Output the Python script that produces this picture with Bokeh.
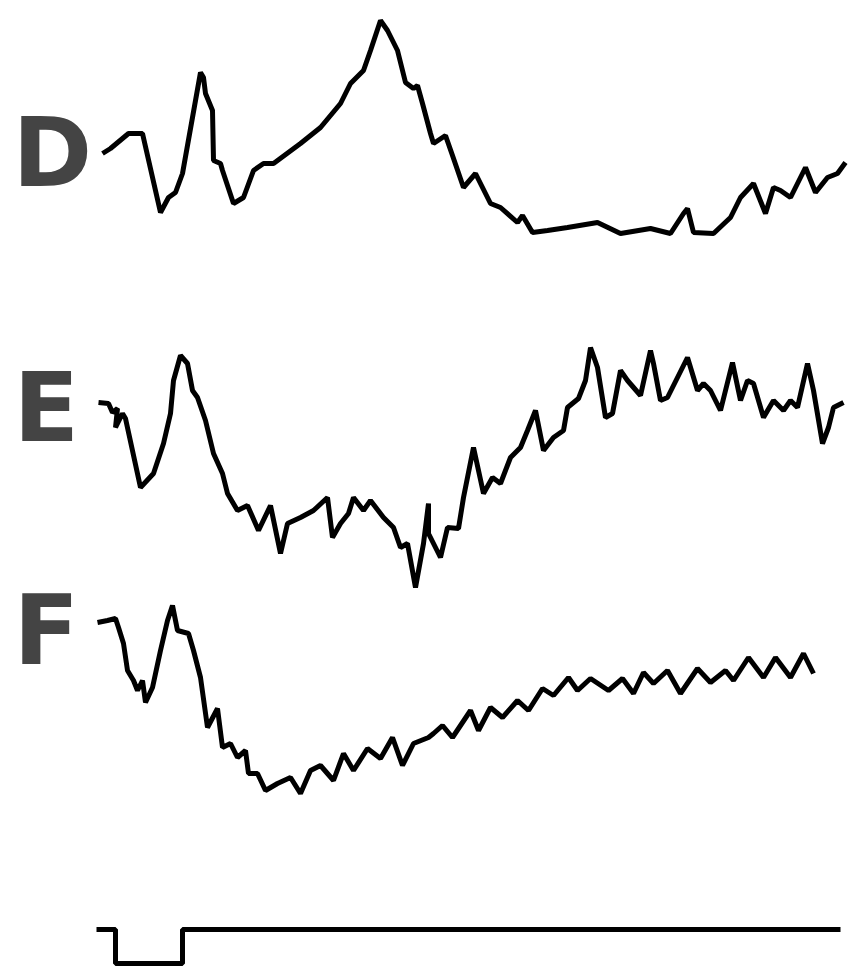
from bokeh.plotting import figure
from bokeh.models import Range1d, Label
from bokeh.embed import file_html
from bokeh.resources import INLINE

# Trace D (time position, reading downward from top of figure)
D_t = [102, 110, 128, 142, 160, 168, 175, 182, 200, 203, 205, 212, 213, 220, 222, 233, 243, 253,
       263, 273, 300, 320, 340, 350, 363, 370, 380, 387, 397, 405, 413, 417, 422, 430, 433, 445,
       452, 463, 475, 490, 500, 517, 522, 532, 547, 567, 597, 620, 650, 670, 683, 687, 693, 713,
       730, 740, 753, 765, 773, 780, 790, 805, 815, 827, 837, 845]
D_v = [153, 148, 133, 133, 212, 197, 192, 173, 72, 77, 93, 110, 160, 163, 170, 203, 197, 170,
       163, 163, 143, 127, 103, 83, 70, 50, 20, 30, 50, 82, 88, 85, 103, 133, 143, 135,
       155, 187, 173, 203, 207, 222, 215, 232, 230, 227, 222, 233, 228, 233, 213, 208, 232, 233,
       217, 197, 183, 213, 187, 190, 197, 167, 192, 177, 173, 162]

# Trace E
E_t = [98, 108, 112, 117, 115, 122, 125, 140, 153, 163, 170, 173, 180, 187, 192, 197, 205, 213,
       222, 227, 237, 247, 258, 270, 280, 287, 300, 313, 327, 332, 340, 348, 353, 363, 370, 383,
       393, 400, 407, 415, 423, 428, 428, 440, 447, 458, 463, 473, 483, 492, 500, 510, 520, 527,
       535, 543, 553, 563, 567, 578, 585, 590, 597, 605, 612, 620, 627, 640, 650, 653, 660, 667,
       677, 687, 697, 703, 710, 720, 732, 740, 747, 753, 763, 773, 783, 790, 797, 807, 813, 822,
       828, 833, 843]
E_v = [402, 403, 412, 408, 427, 413, 418, 487, 473, 443, 413, 380, 355, 363, 390, 397, 420, 453,
       473, 493, 510, 505, 530, 505, 553, 523, 517, 510, 497, 537, 523, 513, 497, 510, 500, 517,
       527, 547, 543, 587, 543, 503, 533, 557, 527, 528, 497, 447, 493, 477, 483, 457, 447, 430,
       410, 450, 437, 430, 407, 398, 380, 347, 367, 417, 413, 370, 380, 395, 350, 363, 400, 397,
       377, 357, 390, 383, 390, 410, 362, 400, 380, 383, 417, 400, 410, 400, 407, 363, 390, 443,
       427, 407, 402]

# Trace F
F_t = [97, 107, 115, 118, 123, 127, 133, 137, 142, 145, 152, 160, 167, 172, 177, 188, 193, 200,
       207, 217, 222, 230, 237, 245, 248, 257, 265, 277, 290, 300, 310, 320, 333, 343, 353, 367,
       380, 392, 402, 413, 428, 433, 442, 452, 470, 478, 490, 502, 517, 528, 542, 553, 568, 577,
       590, 608, 622, 633, 643, 653, 667, 680, 697, 710, 725, 733, 748, 763, 775, 790, 803, 813]
F_v = [622, 620, 618, 627, 643, 670, 680, 690, 680, 702, 687, 650, 620, 605, 630, 633, 650, 677,
       727, 708, 747, 743, 757, 750, 773, 773, 790, 783, 777, 793, 770, 765, 780, 753, 770, 748,
       758, 737, 765, 743, 737, 733, 725, 737, 710, 730, 707, 717, 700, 710, 688, 695, 677, 690,
       678, 690, 678, 693, 672, 683, 670, 693, 668, 682, 670, 680, 657, 677, 657, 677, 653, 673]

# Stimulus marker
S_t = [96, 115, 115, 182, 182, 840]
S_v = [929, 929, 963, 963, 929, 929]

labels = ["D", "E", "F"]
label_x = [12, 13, 13]
label_y = [208, 463, 686]

p = figure(width=856, height=967, output_backend="svg", toolbar_location=None,
           x_range=Range1d(0, 856), y_range=Range1d(-967, 0),
           min_border_left=0, min_border_right=0, min_border_top=0, min_border_bottom=0)
p.xaxis.visible = False
p.yaxis.visible = False
p.xgrid.visible = False
p.ygrid.visible = False
p.outline_line_alpha = 0

for t, v in [(D_t, D_v), (E_t, E_v), (F_t, F_v), (S_t, S_v)]:
    p.line(t, [-y for y in v], line_width=5, line_color="black")

for lab, lx, ly in zip(labels, label_x, label_y):
    p.add_layout(Label(x=lx, y=-ly, text=lab, text_font="DejaVu Sans",
                       text_font_style="bold", text_font_size="72pt"))

open("out.html", "w").write(file_html(p, INLINE))
